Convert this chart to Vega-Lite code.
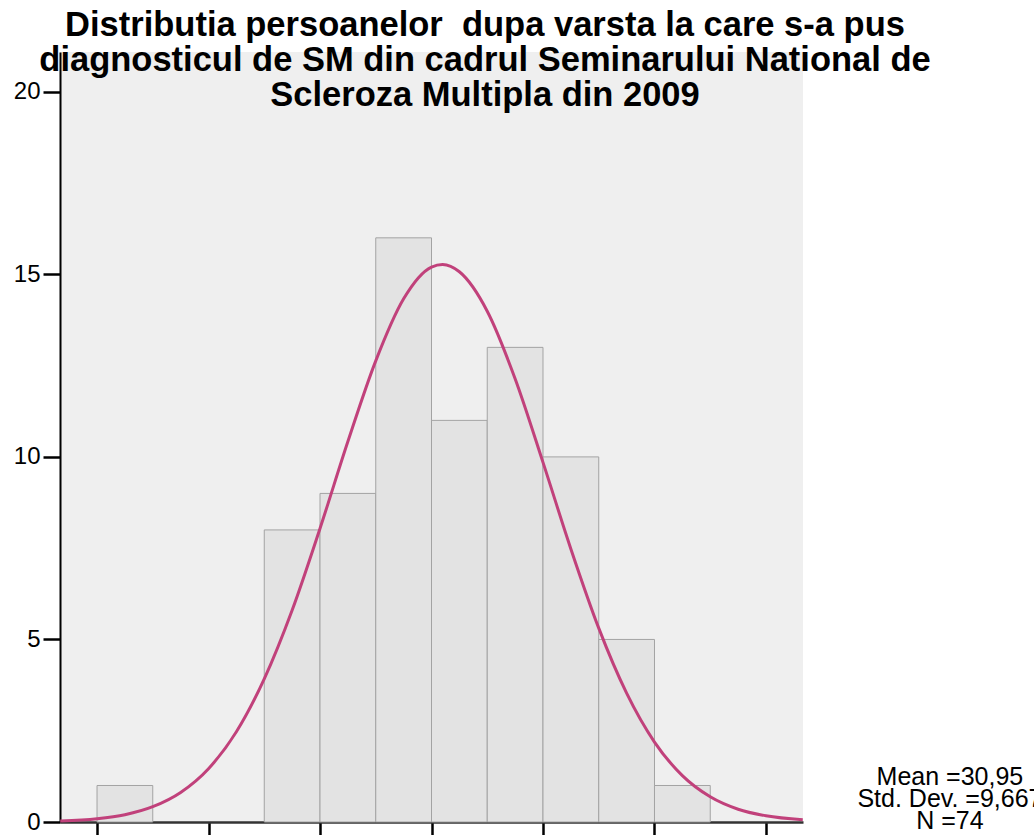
{
  "$schema": "https://vega.github.io/schema/vega-lite/v6.json",
  "autosize": {"type": "none"},
  "width": 743,
  "height": 770,
  "padding": {"left": 60, "top": 52, "right": 231, "bottom": 13},
  "background": "white",
  "config": {
    "view": {"fill": "#efefef", "stroke": null},
    "font": "Liberation Sans"
  },
  "title": {
    "text": ["Distributia persoanelor \u00a0dupa varsta la care s-a pus", "diagnosticul de SM din cadrul Seminarului National de", "Scleroza Multipla din 2009"],
    "font": "Liberation Sans",
    "fontSize": 34.5,
    "fontWeight": "bold",
    "color": "black",
    "lineHeight": 35,
    "anchor": "middle",
    "baseline": "top",
    "offset": 39,
    "dx": 53.5,
    "dy": 100
  },
  "datasets": {
    "bins": [
      {"start": 0, "end": 5, "count": 1},
      {"start": 15, "end": 20, "count": 8},
      {"start": 20, "end": 25, "count": 9},
      {"start": 25, "end": 30, "count": 16},
      {"start": 30, "end": 35, "count": 11},
      {"start": 35, "end": 40, "count": 13},
      {"start": 40, "end": 45, "count": 10},
      {"start": 45, "end": 50, "count": 5},
      {"start": 50, "end": 55, "count": 1}
    ],
    "curve": [
      {"age": -3.3, "freq": 0.03},
      {"age": 0, "freq": 0.09},
      {"age": 2.5, "freq": 0.2},
      {"age": 5, "freq": 0.42},
      {"age": 7.5, "freq": 0.81},
      {"age": 10, "freq": 1.46},
      {"age": 12.5, "freq": 2.47},
      {"age": 15, "freq": 3.92},
      {"age": 17.5, "freq": 5.8},
      {"age": 20, "freq": 8.04},
      {"age": 22.5, "freq": 10.42},
      {"age": 25, "freq": 12.63},
      {"age": 27.5, "freq": 14.33},
      {"age": 30, "freq": 15.2},
      {"age": 31, "freq": 15.27},
      {"age": 32.5, "freq": 15.07},
      {"age": 35, "freq": 13.99},
      {"age": 37.5, "freq": 12.14},
      {"age": 40, "freq": 9.85},
      {"age": 42.5, "freq": 7.48},
      {"age": 45, "freq": 5.31},
      {"age": 47.5, "freq": 3.53},
      {"age": 50, "freq": 2.19},
      {"age": 52.5, "freq": 1.27},
      {"age": 55, "freq": 0.69},
      {"age": 57.5, "freq": 0.35},
      {"age": 60, "freq": 0.17},
      {"age": 63.3, "freq": 0.06}
    ]
  },
  "layer": [
    {
      "data": {"name": "bins"},
      "mark": {"type": "bar", "fill": "#e3e3e3", "stroke": "#a3a3a3", "strokeWidth": 1, "orient": "vertical"},
      "encoding": {
        "x": {
          "field": "start", "type": "quantitative",
          "scale": {"domain": [-3.32, 63.32], "nice": false, "zero": false, "padding": 0},
          "axis": {
            "values": [0, 10, 20, 30, 40, 50, 60],
            "labels": false, "title": null, "grid": false,
            "domainColor": "#333333", "domainWidth": 2.5,
            "tickColor": "black", "tickWidth": 2.5, "tickSize": 16
          }
        },
        "x2": {"field": "end"},
        "y": {
          "field": "count", "type": "quantitative",
          "scale": {"domain": [0, 21.09], "nice": false, "padding": 0},
          "axis": {
            "values": [0, 5, 10, 15, 20],
            "title": null, "grid": false,
            "domainColor": "black", "domainWidth": 2,
            "tickColor": "black", "tickWidth": 2.5, "tickSize": 17,
            "labelFont": "Liberation Sans", "labelFontSize": 24, "labelColor": "black", "labelPadding": 3
          }
        },
        "y2": {"datum": 0}
      }
    },
    {
      "data": {"name": "curve"},
      "mark": {"type": "line", "color": "#c1417b", "strokeWidth": 3, "interpolate": "monotone"},
      "encoding": {
        "x": {"field": "age", "type": "quantitative"},
        "y": {"field": "freq", "type": "quantitative"}
      }
    },
    {
      "data": {"values": [{"n": 74}]},
      "mark": {
        "type": "text",
        "text": ["Mean =30,95", "Std. Dev. =9,667", "N =74"],
        "font": "Liberation Sans",
        "fontSize": 25,
        "lineHeight": 22,
        "align": "center",
        "baseline": "top",
        "color": "black"
      },
      "encoding": {
        "x": {"datum": 76.5, "type": "quantitative"},
        "y": {"datum": 1.554, "type": "quantitative"}
      }
    }
  ]
}
